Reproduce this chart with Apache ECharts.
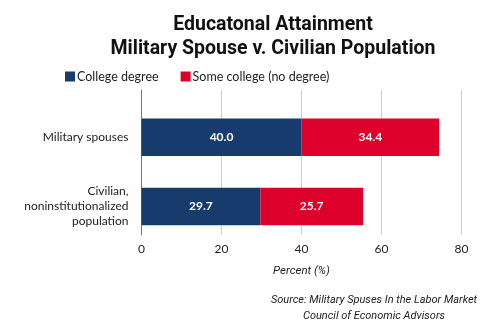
<!DOCTYPE html>
<html><head><meta charset="utf-8">
<script src="https://cdn.jsdelivr.net/npm/echarts@6/dist/echarts.min.js"></script>
<style>html,body{margin:0;padding:0;background:#fff}#c{width:488px;height:327px}</style>
</head><body><div id="c"></div>
<script>
const categories = ['Civilian,\nnoninstitutionalized\npopulation', 'Military spouses'];
const collegeDegree = [29.7, 40.0];
const someCollege = [25.7, 34.4];
const xTicks = [0, 20, 40, 60, 80];
const seriesNames = ['College degree', 'Some college (no degree)'];

const chart = echarts.init(document.getElementById('c'));
const xMin = xTicks[0], xMax = xTicks[xTicks.length - 1];
const labelFont = 'Lato, "Noto Sans", sans-serif';
chart.setOption({
  animation: false,
  title: [{
    text: 'Educatonal Attainment\nMilitary Spouse v. Civilian Population',
    left: 268, top: 8, textAlign: 'center',
    textStyle: { fontFamily: 'Roboto, "Liberation Sans", sans-serif', fontWeight: 'bold', fontSize: 19.5, lineHeight: 24, color: '#111' }
  }, {
    text: 'Source: Military Spuses In the Labor Market\nCouncil of Economic Advisors',
    left: 369, top: 287, textAlign: 'center',
    textStyle: { fontFamily: 'Roboto, "Liberation Sans", sans-serif', fontStyle: 'italic', fontWeight: 'normal', fontSize: 11, lineHeight: 16, color: '#222' }
  }],
  legend: {
    left: 60, top: 65, itemWidth: 10, itemHeight: 10, itemGap: 22,
    icon: 'rect',
    textStyle: { fontFamily: labelFont, fontSize: 12.5, color: '#222', padding: [0, 0, 0, -3] },
    data: seriesNames
  },
  grid: [
    { left: 141.5, right: 26.5, top: 90, bottom: 92 },
    { left: 141.5, right: 26.5, top: 102.6, bottom: 86 }
  ],
  xAxis: [{
    gridIndex: 0, type: 'value', min: xMin, max: xMax, interval: 20,
    axisLine: { show: false }, axisTick: { show: false },
    splitLine: { lineStyle: { color: '#d0d0d0', width: 1 } },
    axisLabel: { fontFamily: labelFont, fontSize: 12, color: '#222', margin: 8 },
    name: 'Percent (%)', nameLocation: 'middle', nameGap: 30,
    nameTextStyle: { fontFamily: 'Roboto, sans-serif', fontStyle: 'italic', fontSize: 11.5, color: '#222' }
  }, {
    gridIndex: 1, type: 'value', min: xMin, max: xMax, show: false
  }],
  yAxis: [{
    gridIndex: 0, type: 'category', data: categories,
    axisLine: { show: true, lineStyle: { color: '#777', width: 1 } },
    axisTick: { show: false }, axisLabel: { show: false }, splitLine: { show: false }
  }, {
    gridIndex: 1, type: 'category', data: categories,
    axisLine: { show: false }, axisTick: { show: false },
    axisLabel: { fontFamily: labelFont, fontSize: 12, color: '#222', margin: 13, lineHeight: 15, align: 'right' }
  }],
  series: [{
    name: seriesNames[0], type: 'bar', stack: 's', xAxisIndex: 1, yAxisIndex: 1,
    data: collegeDegree, barWidth: 37.5,
    itemStyle: { color: '#173B6C' },
    label: { show: true, position: 'inside', color: '#fff', fontFamily: labelFont, fontWeight: 'bold', fontSize: 12, formatter: p => p.value.toFixed(1) }
  }, {
    name: seriesNames[1], type: 'bar', stack: 's', xAxisIndex: 1, yAxisIndex: 1,
    data: someCollege, barWidth: 37.5,
    itemStyle: { color: '#DC002A' },
    label: { show: true, position: 'inside', color: '#fff', fontFamily: labelFont, fontWeight: 'bold', fontSize: 12, formatter: p => p.value.toFixed(1) }
  }]
});
</script></body></html>
